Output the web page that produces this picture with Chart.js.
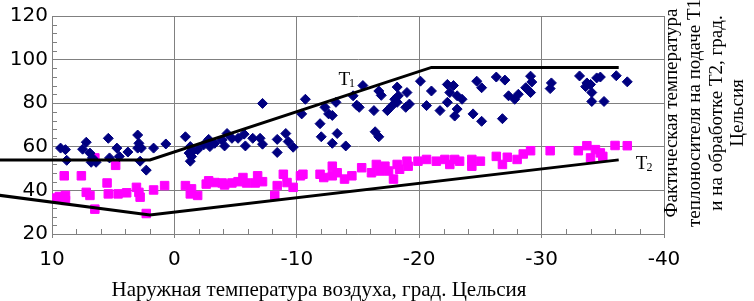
<!DOCTYPE html>
<html>
<head>
<meta charset="utf-8">
<script src="https://cdn.jsdelivr.net/npm/chart.js@4"></script>
<style>
html,body{margin:0;padding:0;background:#fff}
#wrap{width:754px;height:301px}
</style>
</head>
<body>
<div id="wrap"><canvas id="c" width="754" height="301"></canvas></div>
<script>
// axis ticks
const xTicks=[10,0,-10,-20,-30,-40];
const yTicks=[20,40,60,80,100,120];

// measured T1 (supply) points
const t1X=[9.3,8.9,8.8,7.5,7.2,6.9,6.8,6.4,6.7,5.4,4.7,5.3,4.5,3.8,3.0,2.9,3.0,2.7,2.8,2.3,1.7,0.7,
  -7.2,-0.9,-1.3,-1.2,-1.3,-1.4,-1.5,-1.9,-2.4,-2.8,-2.9,-3.3,-3.9,-4.1,-4.3,-4.7,-5.2,-5.7,-5.8,-6.4,-7.0,-7.2,-8.4,-8.4,-9.1,-9.3,-9.7,
  -10.4,-10.7,-12.3,-12.6,-12.9,-13.2,-11.9,-12.0,-13.3,-12.9,-14.0,-14.6,-14.9,-15.1,-15.4,-16.3,-16.4,-16.7,-16.7,-16.9,-17.4,-17.8,-18.2,-18.0,-18.3,-18.2,-19.0,-18.9,-19.2,-20.1,-20.6,
  -21.0,-21.7,-22.3,-22.3,-22.8,-22.5,-23.1,-23.5,-23.1,-22.9,-24.7,-25.1,-24.4,-25.1,-26.3,-27.0,-26.8,-27.3,-27.8,-28.1,-28.7,-29.1,-29.2,-29.1,
  -30.8,-30.7,-33.1,-33.6,-33.7,-34.0,-34.1,-34.5,-34.8,-34.1,-35.1,-36.1,-37.0];
const t1Y=[59.4,58.7,53.8,58.9,62.1,57.1,52.9,52.9,54.9,63.9,59.4,54.9,55.6,57.6,65.4,61.6,59.4,59.4,53.4,49.3,59.4,61.3,
  79.9,64.6,60.1,57.1,53.4,55.5,57.9,58.7,60.9,63.4,60.1,61.6,63.1,60.4,66.1,63.9,63.9,65.8,60.4,63.9,63.9,61.2,63.4,57.4,66.1,62.4,59.8,
  75.1,81.8,78.1,75.1,74.4,80.4,70.6,64.6,66.1,61.6,60.4,83.4,79.1,78.1,88.1,76.6,66.9,64.6,85.6,83.6,76.6,78.9,87.4,81.8,83.4,80.4,84.9,78.1,79.6,90.1,78.9,
  85.6,76.6,88.6,80.4,88.1,84.9,83.4,81.8,77.3,74.1,90.1,87.1,75.1,71.7,92.0,90.6,72.9,83.4,81.8,84.1,87.1,92.4,89.7,84.9,
  89.3,86.7,92.5,87.6,89.3,88.6,84.9,91.6,92.0,80.8,80.8,92.6,89.8];

// measured T2 (return) points
const t2X=[6.5,4.8,9.0,7.6,5.5,9.4,9.6,8.9,8.9,7.2,6.9,5.4,4.6,3.9,3.1,2.9,2.8,1.7,0.8,6.5,2.3,
  -0.9,-1.4,-1.3,-1.9,-2.6,-2.8,-3.3,-3.9,-4.1,-4.7,-5.2,-5.6,-5.9,-6.6,-6.8,-7.2,-8.2,-8.4,-8.9,-9.2,-9.7,-10.3,
  -10.5,-11.9,-12.2,-12.9,-12.9,-13.3,-13.9,-14.5,-15.3,-16.1,-16.5,-16.8,-17.2,-17.5,-17.9,-18.2,-18.4,-19.0,-19.1,-19.9,-20.6,
  -21.4,-22.1,-22.5,-22.9,-23.3,-24.3,-24.3,-25.0,-26.3,-26.8,-27.2,-28.0,-28.5,-29.1,
  -30.7,-33.0,-33.7,-34.0,-34.4,-34.8,-35.0,-36.0,-37.0];
const t2Y=[54.9,51.5,46.7,46.7,43.4,37.2,36.5,37.7,35.4,39.1,37.7,38.4,38.4,38.9,41.4,39.1,36.9,40.2,42.2,31.4,29.4,
  42.2,40.7,38.4,37.7,42.9,44.4,43.6,43.4,42.5,43.4,44.0,45.9,43.4,43.4,46.7,44.0,37.7,42.2,47.4,43.6,41.4,46.7,
  47.4,47.4,45.9,51.1,46.7,48.1,45.2,46.7,50.4,48.1,51.9,48.9,51.1,48.9,45.2,51.9,49.7,53.4,51.1,53.4,54.2,
  53.4,54.2,51.9,54.2,53.4,54.2,51.1,53.4,55.6,51.9,55.2,54.2,56.7,58.2,
  58.2,58.2,60.5,54.9,58.7,57.2,55.6,60.6,60.5];

// design curves
const designT1X=[14.5,2,-21,-36.3];
const designT1Y=[54,54,96.4,96.4];
const designT2X=[14.5,2,-36.3];
const designT2Y=[37.9,28.7,54];

// curve labels (anchored in data units)
const labelSub=["1","2"];
const labelX=[-13.4,-37.7];
const labelY=[88.5,49.8];

const xTitle="Наружная температура воздуха, град. Цельсия";
const yTitle=["Фактическая температура","теплоносителя на подаче Т1","и на обработке Т2, град.","Цельсия"];

function pts(xs,ys){ return xs.map((x,i)=>({x:x,y:ys[i]})); }

const minorTicks={
  id:"minorTicks",
  beforeDatasetsDraw(chart){
    const {ctx,chartArea:a,scales:{x,y}}=chart;
    ctx.save(); ctx.strokeStyle="#808080"; ctx.lineWidth=1; ctx.beginPath();
    for(let v=8;v>-40;v-=2){ if(v%10===0) continue; const px=Math.round(x.getPixelForValue(v))+0.5; ctx.moveTo(px,a.bottom); ctx.lineTo(px,a.bottom-5); }
    for(let v=24;v<120;v+=4){ if(v%20===0) continue; const py=Math.round(y.getPixelForValue(v))+0.5; ctx.moveTo(a.left,py); ctx.lineTo(a.left+5,py); }
    ctx.stroke(); ctx.restore();
  }
};

const texts={
  id:"texts",
  afterDraw(chart){
    const {ctx,chartArea:a,scales:{x,y}}=chart;
    ctx.save(); ctx.fillStyle="#000";
    ctx.font='21px "Liberation Serif"'; ctx.textAlign="center"; ctx.textBaseline="middle";
    ctx.fillText(xTitle,319,290);
    ctx.font='19px "Liberation Serif"';
    const offs=[8,31,53,74];
    yTitle.forEach((t,i)=>{ ctx.save(); ctx.translate(a.right+offs[i],113); ctx.rotate(-Math.PI/2); ctx.fillText(t,0,0); ctx.restore(); });
    ctx.textAlign="left"; ctx.textBaseline="alphabetic";
    labelSub.forEach((s,i)=>{
      const px=x.getPixelForValue(labelX[i]), py=y.getPixelForValue(labelY[i]);
      ctx.font='19px "Liberation Serif"'; ctx.fillText("T",px,py);
      const w=ctx.measureText("T").width;
      ctx.font='12px "Liberation Serif"'; ctx.fillText(s,px+w-1,py+2);
    });
    ctx.restore();
  }
};

const tickFont={family:"DejaVu Sans",size:20};

new Chart(document.getElementById("c"),{
  type:"scatter",
  data:{datasets:[
    {label:"T1 design",data:pts(designT1X,designT1Y),showLine:true,borderColor:"#000",borderWidth:3,pointRadius:0,clip:false,order:0},
    {label:"T2 design",data:pts(designT2X,designT2Y),showLine:true,borderColor:"#000",borderWidth:3,pointRadius:0,clip:false,order:0},
    {label:"T1",data:pts(t1X,t1Y),pointStyle:"rectRot",pointRadius:5,backgroundColor:"#000080",borderColor:"#000080",borderWidth:1,order:1},
    {label:"T2",data:pts(t2X,t2Y),pointStyle:"rect",pointRadius:6,backgroundColor:"#ff00ff",borderColor:"#ff00ff",borderWidth:1,order:2}
  ]},
  options:{
    responsive:false,animation:false,devicePixelRatio:1,
    layout:{padding:{top:12,right:90,left:0,bottom:0}},
    plugins:{legend:{display:false},tooltip:{enabled:false}},
    scales:{
      x:{type:"linear",reverse:true,min:-40,max:10,
        afterBuildTicks:s=>{s.ticks=xTicks.map(v=>({value:v}));},
        afterFit:s=>{s.height=67;},
        ticks:{font:tickFont,color:"#000",padding:10,maxRotation:0},
        grid:{color:"#808080",lineWidth:1,tickLength:4},
        border:{color:"#808080"}},
      y:{type:"linear",min:20,max:120,
        afterBuildTicks:s=>{s.ticks=yTicks.map(v=>({value:v}));},
        afterFit:s=>{s.width=52;},
        ticks:{font:tickFont,color:"#000",padding:4},
        grid:{color:"#808080",lineWidth:1,drawTicks:false},
        border:{color:"#808080"}}
    }
  },
  plugins:[minorTicks,texts]
});
</script>
</body>
</html>
